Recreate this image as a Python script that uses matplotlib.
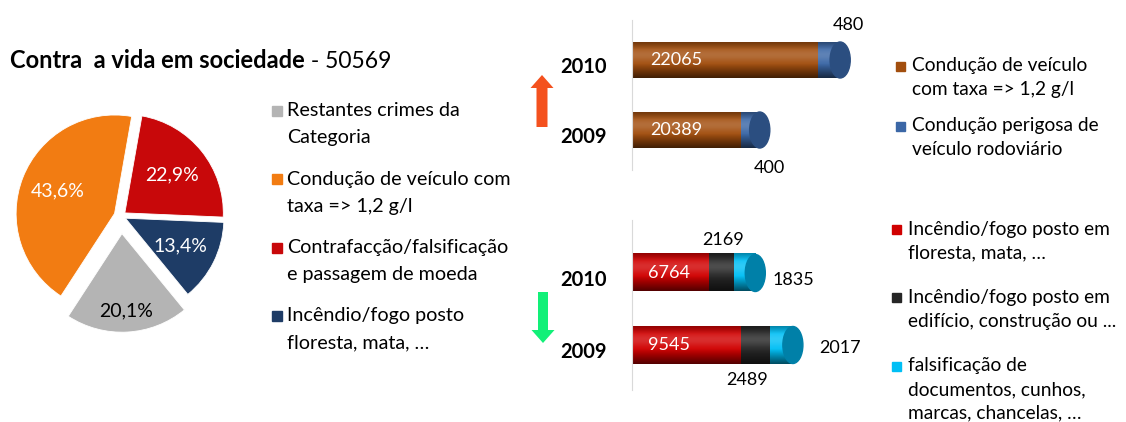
import numpy as np
import matplotlib
matplotlib.use('Agg')
import matplotlib.pyplot as plt
from matplotlib.patches import Rectangle, Ellipse, FancyArrow
from matplotlib.colors import to_rgb
from matplotlib.transforms import ScaledTranslation

W, H = 1126, 422
plt.rcParams['font.family'] = ['Lato', 'DejaVu Sans']

# pie: slices go clockwise from the top
title_text = 'Contra  a vida em sociedade'
title_total = 50569
pie_labels = ['Contrafacção/falsificação\ne passagem de moeda',
              'Incêndio/fogo posto\nfloresta, mata, …',
              'Restantes crimes da\nCategoria',
              'Condução de veículo com\ntaxa => 1,2 g/l']
pie_values = [22.9, 13.4, 20.1, 43.6]
pie_colors = ['#C8080A', '#1E3C66', '#B4B4B4', '#F27C12']
pie_legend_order = [2, 3, 0, 1]

years = ['2009', '2010']

# crimes que subiram
up_labels = ['Condução de veículo\ncom taxa => 1,2 g/l',
             'Condução perigosa de\nveículo rodoviário']
up_values = [[20389, 22065], [400, 480]]
up_colors = ['#A24E0E', '#3B67A6']
up_caps = '#2B4E80'

# crimes que desceram
down_labels = ['Incêndio/fogo posto em\nfloresta, mata, …',
               'Incêndio/fogo posto em\nedifício, construção ou ...',
               'falsificação de\ndocumentos, cunhos,\nmarcas, chancelas, …']
down_values = [[9545, 6764], [2489, 2169], [2017, 1835]]
down_colors = ['#D00000', '#262626', '#00BFF5']
down_caps = '#0080A8'


fig = plt.figure(figsize=(W / 100, H / 100), dpi=100)


def px_axes(x0, y0, x1, y1):
    return fig.add_axes([x0 / W, 1 - y1 / H, (x1 - x0) / W, (y1 - y0) / H])


ov = px_axes(0, 0, W, H)
ov.set_xlim(0, W)
ov.set_ylim(H, 0)
ov.axis('off')

# title
t1 = ov.text(10, 61, title_text, fontsize=17, fontweight='bold', va='center')
ov.annotate(f' - {title_total}', xy=(1, 0), xycoords=t1, va='bottom',
            fontsize=16.5)

# pie
pax = px_axes(121 - 130, 216 - 130, 121 + 130, 216 + 130)
wedges, texts, autotexts = pax.pie(
    pie_values, colors=pie_colors, startangle=80, counterclock=False,
    explode=[0.05, 0.05, 0.18, 0.07],
    autopct=lambda p: f'{p:.1f}%'.replace('.', ','), pctdistance=0.62,
    wedgeprops=dict(edgecolor='white', linewidth=0.6),
    textprops=dict(fontsize=14, color='white'))
pax.set_xlim(-1.32, 1.32)
pax.set_ylim(-1.32, 1.32)
autotexts[2].set_color('black')
x, y = autotexts[2].get_position()
autotexts[2].set_position((x * 1.2, y * 1.2))


def legend_block(x_sq, x_txt, y0, step, line_h, labels, colors, sq, fs):
    for k, (lab, col) in enumerate(zip(labels, colors)):
        y = y0 + k * step
        ov.add_patch(Rectangle((x_sq, y - sq / 2), sq, sq, color=col))
        for j, line in enumerate(lab.split('\n')):
            ov.text(x_txt, y + j * line_h, line, va='center', fontsize=fs)


legend_block(272, 287, 111, 68.3, 27,
             [pie_labels[i] for i in pie_legend_order],
             [pie_colors[i] for i in pie_legend_order], 10, 14.2)
legend_block(896, 912, 66, 60, 23.5, up_labels, up_colors, 9, 13.8)
legend_block(892, 908, 229, 68.5, 23.5, down_labels, down_colors, 9, 13.8)

# arrows
ov.add_patch(FancyArrow(542, 127, 0, -52, width=11, head_width=23,
                        head_length=13, length_includes_head=True,
                        color='#F4511E', lw=0))
ov.add_patch(FancyArrow(543, 292, 0, 51, width=10, head_width=23,
                        head_length=13, length_includes_head=True,
                        color='#12F078', lw=0))


def shade(ax, bar, color, xmin):
    base = np.array(to_rgb(color))
    t = np.linspace(0, 1, 64)
    light = np.exp(-((t - 0.35) / 0.2) ** 2) * 0.18
    dark = np.clip((np.abs(t - 0.4) - 0.2) / 0.4, 0, 1) * 0.6
    rgb = base + (1 - base) * light[:, None] - base * dark[:, None]
    img = np.clip(rgb, 0, 1)[:, None, :]
    x0, y0 = max(bar.get_x(), xmin), bar.get_y()
    x1 = bar.get_x() + bar.get_width()
    ax.imshow(img, extent=(x0, x1, y0, y0 + bar.get_height()),
              origin='upper', aspect='auto', interpolation='bilinear',
              zorder=bar.get_zorder() + 0.1)


def cylinders(ax, values, colors, cap_color, xlim, ylim, cap_data):
    pos = np.arange(len(years))
    left = np.zeros(len(years))
    for vals, col in zip(values, colors):
        bars = ax.barh(pos, vals, left=left, height=0.514, color=col)
        for b in bars:
            shade(ax, b, col, xlim[0])
        left = left + np.array(vals)
    for p, end in zip(pos, left):
        ax.add_patch(Ellipse((end, p), cap_data, 0.514, color=cap_color, zorder=3))
    ax.set_xlim(*xlim)
    ax.set_ylim(*ylim)
    ax.set_yticks(pos)
    ax.set_yticklabels(years, fontweight='bold', fontsize=14.5)
    ax.tick_params(axis='y', length=0, pad=18)
    shift = ScaledTranslation(0, -0.05, fig.dpi_scale_trans)
    for lab in ax.get_yticklabels():
        lab.set_transform(lab.get_transform() + shift)
    ax.set_xticks([])
    for s in ['top', 'right', 'bottom']:
        ax.spines[s].set_visible(False)
    ax.spines['left'].set_color('#D9D9D9')
    ax.patch.set_alpha(0)
    return left


top = px_axes(632, 20, 861, 170)
top_end = cylinders(top, up_values, up_colors, up_caps, (18000, 23000),
                    (-0.571, 1.571), 440)
for i in range(len(years)):
    top.annotate(str(up_values[0][i]), xy=(18000, i), xytext=(18, 0),
                 textcoords='offset pixels', color='white', va='center',
                 fontsize=13, zorder=5)
top.annotate(str(up_values[1][1]), xy=(top_end[1], 1), xytext=(8, 35),
             textcoords='offset pixels', ha='center', va='center', fontsize=13)
top.annotate(str(up_values[1][0]), xy=(top_end[0], 0), xytext=(10, -38),
             textcoords='offset pixels', ha='center', va='center', fontsize=13)

bot = px_axes(632, 220, 861, 390)
bot_end = cylinders(bot, down_values, down_colors, down_caps, (0, 20000),
                    (-0.625, 1.736), 1750)
for i in range(len(years)):
    bot.annotate(str(down_values[0][i]), xy=(0, i), xytext=(16, 0),
                 textcoords='offset pixels', color='white', va='center',
                 fontsize=13, zorder=5)
black_mid = [down_values[0][i] + down_values[1][i] / 2 for i in range(len(years))]
bot.annotate(str(down_values[1][1]), xy=(black_mid[1], 1), xytext=(1, 33),
             textcoords='offset pixels', ha='center', va='center', fontsize=13)
bot.annotate(str(down_values[1][0]), xy=(black_mid[0], 0), xytext=(-8, -35),
             textcoords='offset pixels', ha='center', va='center', fontsize=13)
bot.annotate(str(down_values[2][1]), xy=(bot_end[1], 1), xytext=(38, -7),
             textcoords='offset pixels', ha='center', va='center', fontsize=13)
bot.annotate(str(down_values[2][0]), xy=(bot_end[0], 0), xytext=(47, -3),
             textcoords='offset pixels', ha='center', va='center', fontsize=13)

fig.savefig('out.png', dpi=100)
